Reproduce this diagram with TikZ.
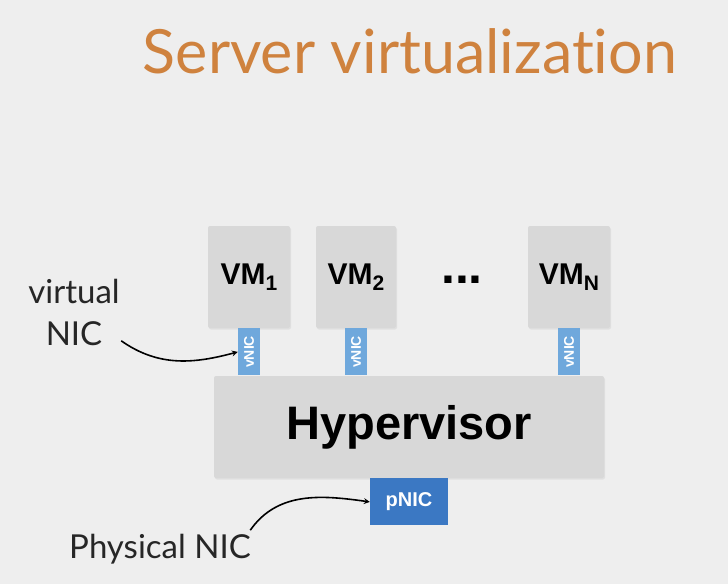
\documentclass[tikz,border=0pt]{standalone}
\usepackage{fontspec}
\usetikzlibrary{positioning,shadows}
\newfontfamily\boxfont{Liberation Sans}
\newfontfamily\notefont[Ligatures={NoCommon}]{Lato}
\definecolor{slidebg}{HTML}{EEEEEE}
\definecolor{titleorange}{HTML}{CF823E}
\definecolor{vmgray}{HTML}{D8D8D8}
\definecolor{vnicblue}{HTML}{6FA8DC}
\definecolor{pnicblue}{HTML}{3B78C3}
\newcommand{\vmsub}[1]{\raisebox{-0.18em}{\fontsize{21}{21}\selectfont #1}}

\begin{document}
\begin{tikzpicture}[
    x=1pt, y=-1pt,
    grayshadow/.style={drop shadow={opacity=0.12, shadow xshift=1pt, shadow yshift=-1.5pt}},
    vmbox/.style={fill=vmgray, rounded corners=2pt, grayshadow, minimum width=82pt, minimum height=102pt, inner sep=0pt, font=\boxfont\bfseries\fontsize{30}{30}\selectfont},
    vnicbox/.style={fill=vnicblue, minimum width=22pt, minimum height=47pt, inner sep=0pt},
    vnictext/.style={rotate=90, text=white, font=\boxfont\bfseries\fontsize{14}{14}\selectfont},
    note/.style={align=center, text=black!85, font=\notefont\fontsize{33}{42}\selectfont},
    arrow/.style={->, >=stealth, thick, line width=1.6pt}
]
\fill[slidebg] (0,0) rectangle (728,584);
\useasboundingbox (0,0) rectangle (728,584);

\node[text=titleorange, font=\notefont\fontsize{61}{61}\selectfont, anchor=base] (title) at (410,73) {Server virtualization};

\node[vmbox] (vm1) at (249,277) {VM\vmsub{1}};
\node[vmbox, minimum width=80pt] (vm2) at (356,277) {VM\vmsub{2}};
\node[vmbox] (vmn) at (569,277) {VM\vmsub{N}};
\node[font=\boxfont\bfseries\fontsize{50}{50}\selectfont, anchor=base] (dots) at (462,283) {...};

\node[vnicbox, below=0pt of vm1] (vnic1) {};
\node[vnicbox, below=0pt of vm2] (vnic2) {};
\node[vnicbox, below=0pt of vmn] (vnicn) {};
\foreach \n in {vnic1,vnic2,vnicn}
    \node[vnictext] at (\n) {vNIC};

\node[fill=vmgray, rounded corners=2pt, grayshadow, minimum width=390pt, minimum height=102pt, font=\boxfont\bfseries\fontsize{47}{47}\selectfont] (hyp) at (409,427) {Hypervisor};
\node[fill=pnicblue, minimum width=78pt, minimum height=47pt, inner sep=0pt, text=white, font=\boxfont\bfseries\fontsize{20}{20}\selectfont, below=0pt of hyp] (pnic) {pNIC};

\node[note] (vnote) at (74,312) {virtual\\NIC};
\node[note, anchor=base] (pnote) at (160,558) {Physical NIC};

\draw[arrow] (vnote.south east) ++(-2,-8) coordinate (va) to[out=-35, in=195] (vnic1.west);
\draw[arrow] (pnote.north east) ++(-4,0) coordinate (pa) to[out=55, in=172] (pnic.west);
\end{tikzpicture}
\end{document}
